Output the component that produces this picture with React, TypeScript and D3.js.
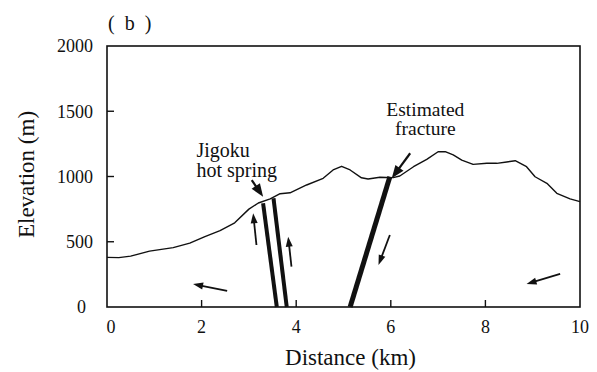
import * as d3 from "d3";

// topographic profile along the section
const distanceKm = [0, 0.25, 0.5, 0.9, 1.4, 1.75, 2.07, 2.39, 2.7, 3.0, 3.2, 3.45, 3.66, 3.87, 4.22, 4.57, 4.78, 4.96, 5.14, 5.38, 5.52, 5.77, 6.05, 6.19, 6.48, 6.76, 7.0, 7.15, 7.32, 7.5, 7.74, 8.03, 8.24, 8.45, 8.63, 8.87, 9.05, 9.3, 9.51, 9.79, 10];
const elevationM = [380, 378, 390, 428, 455, 490, 540, 585, 645, 750, 797, 828, 868, 875, 935, 986, 1050, 1078, 1050, 990, 981, 994, 991, 1004, 1075, 1131, 1190, 1190, 1165, 1126, 1093, 1101, 1101, 1111, 1121, 1075, 998, 948, 871, 828, 807];

const xTicks = [0, 2, 4, 6, 8, 10];
const yTicks = [0, 500, 1000, 1500, 2000];

// faults: [top km, top m, bottom km, bottom m]
const jigokuFaults = [
  [3.3, 795, 3.59, 0],
  [3.52, 833, 3.8, 0],
];
const fractureFault = [5.98, 998, 5.14, 0];

// flow arrows: [tail km, tail m, tip km, tip m]
const flowArrows = [
  [3.16, 475, 3.09, 718],
  [3.9, 309, 3.83, 539],
  [5.98, 552, 5.74, 322],
  [2.54, 123, 1.82, 176],
  [9.58, 253, 8.87, 176],
];
const labelArrows = [
  [3.06, 973, 3.3, 845],
  [6.41, 1178, 6.02, 986],
];

const jigokuLabel = ["Jigoku", "hot spring"];
const fractureLabel = ["Estimated", "fracture"];

const W = 597, H = 372;
const margin = {top: 46, right: 17, bottom: 65, left: 107};
const font = "Liberation Serif, Times New Roman, serif";

const Arrow = ({a, x, y, lw, hl, hw}) => {
  const x0 = x(a[0]), y0 = y(a[1]), x1 = x(a[2]), y1 = y(a[3]);
  const len = Math.hypot(x1 - x0, y1 - y0);
  const ux = (x1 - x0) / len, uy = (y1 - y0) / len;
  const bx = x1 - ux * hl, by = y1 - uy * hl;
  const pts = [
    [x1, y1],
    [bx - uy * hw / 2, by + ux * hw / 2],
    [bx + uy * hw / 2, by - ux * hw / 2],
  ];
  return (
    <g>
      <line x1={x0} y1={y0} x2={bx + ux * 1} y2={by + uy * 1} stroke="#111" strokeWidth={lw} />
      <polygon points={pts.map(p => p.join(",")).join(" ")} fill="#111" />
    </g>
  );
};

export default function App() {
  const x = d3.scaleLinear().domain([0, 10]).range([margin.left, W - margin.right]);
  const y = d3.scaleLinear().domain([0, 2000]).range([H - margin.bottom, margin.top]);

  const profile = d3.line<number>()
    .x((d, i) => x(distanceKm[i]))
    .y(d => y(d))(elevationM);

  return (
    <svg width={W} height={H} style={{position: "absolute", left: 0, top: 0, background: "#fff", fontFamily: font}}>
      <text x={108} y={30} fontSize={20} fill="#111">{"(\u2002b\u2002)"}</text>

      {/* frame */}
      <rect x={x(0)} y={y(2000)} width={x(10) - x(0)} height={y(0) - y(2000)} fill="none" stroke="#111" strokeWidth={1.6} />

      {xTicks.map(t => (
        <g key={"x" + t}>
          {t > 0 && t < 10 && <line x1={x(t)} x2={x(t)} y1={y(0)} y2={y(0) - 7} stroke="#111" strokeWidth={1.4} />}
          <text x={x(t) + (t === 0 ? 4 : 0)} y={333} fontSize={18} textAnchor="middle" fill="#111">{t}</text>
        </g>
      ))}
      {yTicks.map(t => (
        <g key={"y" + t}>
          {t > 0 && t < 2000 && <line x1={x(0)} x2={x(0) + 7} y1={y(t)} y2={y(t)} stroke="#111" strokeWidth={1.4} />}
          <text x={t === 0 ? 86 : 93} y={y(t)} dy="0.35em" fontSize={18} textAnchor="end" fill="#111">{t}</text>
        </g>
      ))}

      <text x={(x(0) + x(10)) / 2 + 7} y={365} fontSize={23} textAnchor="middle" fill="#111">Distance (km)</text>
      <text transform={`translate(34,${y(1000) - 2}) rotate(-90)`} fontSize={23} textAnchor="middle" fill="#111">Elevation (m)</text>

      <path d={profile} fill="none" stroke="#111" strokeWidth={1.4} strokeLinejoin="round" />

      {jigokuFaults.map((f, i) => (
        <line key={"j" + i} x1={x(f[0])} y1={y(f[1])} x2={x(f[2])} y2={y(f[3])} stroke="#111" strokeWidth={4} />
      ))}
      <line x1={x(fractureFault[0])} y1={y(fractureFault[1])} x2={x(fractureFault[2])} y2={y(fractureFault[3])} stroke="#111" strokeWidth={5} />

      {flowArrows.map((a, i) => <Arrow key={"f" + i} a={a} x={x} y={y} lw={1.8} hl={10} hw={7} />)}
      {labelArrows.map((a, i) => <Arrow key={"l" + i} a={a} x={x} y={y} lw={2.2} hl={13} hw={10} />)}

      <text fontSize={20} fill="#111">
        <tspan x={x(1.89)} y={y(1152)}>{jigokuLabel[0]}</tspan>
        <tspan x={x(1.89)} y={y(998)}>{jigokuLabel[1]}</tspan>
      </text>
      <text fontSize={19.5} fill="#111" textAnchor="middle">
        <tspan x={x(6.73)} y={y(1462)}>{fractureLabel[0]}</tspan>
        <tspan x={x(6.73)} y={y(1315)}>{fractureLabel[1]}</tspan>
      </text>
    </svg>
  );
}
